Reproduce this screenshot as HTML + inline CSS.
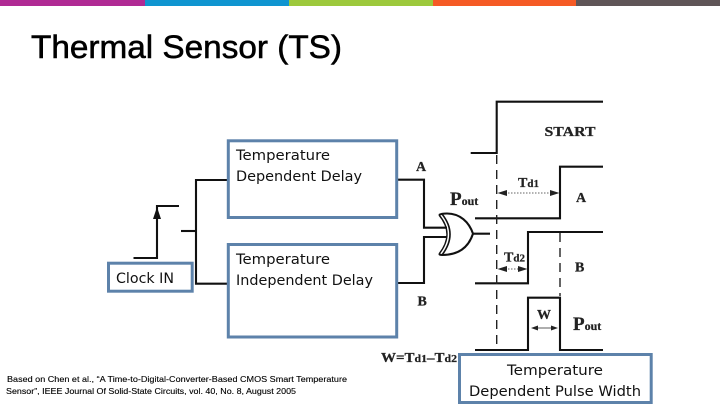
<!DOCTYPE html>
<html><head><meta charset="utf-8"><style>
html,body{margin:0;padding:0;background:#fff;width:720px;height:405px;overflow:hidden}
svg{display:block}
.d{font-family:"DejaVu Sans",sans-serif;font-size:14.5px;fill:#111}
.s{font-family:"Liberation Serif",serif;font-weight:bold;fill:#222;stroke:#222;stroke-width:.25}
.f{font-family:"Liberation Sans",sans-serif;font-size:8.6px;fill:#000;stroke:#000;stroke-width:.12}
</style></head><body>
<svg width="720" height="405" viewBox="0 0 720 405" xmlns="http://www.w3.org/2000/svg">
<rect x="0" y="0" width="145" height="6" fill="#b02a94"/>
<rect x="145" y="0" width="144" height="6" fill="#0f95d0"/>
<rect x="289" y="0" width="144" height="6" fill="#9dc93c"/>
<rect x="433" y="0" width="143" height="6" fill="#f55a25"/>
<rect x="576" y="0" width="144" height="6" fill="#5f5557"/>
<text x="31" y="58" font-family="Liberation Sans,sans-serif" font-size="32" fill="#000" stroke="#000" stroke-width=".55" textLength="311" lengthAdjust="spacingAndGlyphs">Thermal Sensor (TS)</text>

<g fill="none" stroke="#111" stroke-width="2.1">
<path d="M133.5 258H157V206H179"/>
<path d="M181 231H196"/>
<path d="M227 180H196V283.7H227"/>
<path d="M398 179.7H424V227.7H447"/>
<path d="M398 283H424V237H447"/>
<path d="M473 233.7H490"/>
<path d="M470.7 153H496.7V101.7H603"/>
<path d="M475 218.3H560V166.7H603"/>
<path d="M475 283.3H528V232H603"/>
<path d="M475 350H528V297.7H560V350H603"/>
<path d="M439 215Q455 234 439 254" stroke-width="1.4"/>
<path d="M442 214Q458 234 442 255" stroke-width="1.6"/>
<path d="M439 215Q441 213.5 447 213.5C460 213.5 469 222 473 233.7C469 246 460 255 442 255Q440 255 439 254"/>
</g>
<path d="M157 207L153 219H161Z" fill="#111"/>
<g fill="none" stroke="#222" stroke-width="1.4" stroke-dasharray="9 6">
<path d="M496.7 155V350"/>
<path d="M560 233V296"/>
</g>
<g fill="none" stroke="#333" stroke-width="0.8" stroke-dasharray="1.5 1.5">
<path d="M505 193H552"/>
<path d="M505 269H520"/>
</g>
<path d="M537 328H553" stroke="#333" stroke-width="0.8"/>
<g fill="#222">
<path d="M497.5 193L507 190V196Z"/>
<path d="M559.5 193L550 190V196Z"/>
<path d="M497.5 269L507 266V272Z"/>
<path d="M527.5 269L518 266V272Z"/>
<path d="M531 328L538 325.5V330.5Z"/>
<path d="M558 328L551 325.5V330.5Z"/>
</g>

<g fill="#fff" stroke="#5d82aa" stroke-width="3">
<rect x="228.3" y="140.8" width="168.4" height="76.7"/>
<rect x="228.3" y="244.5" width="168.4" height="92.5"/>
<rect x="108.5" y="263.2" width="83.7" height="28"/>
<rect x="459.5" y="354.5" width="191.7" height="48"/>
</g>

<text class="d" x="236" y="160" textLength="94" lengthAdjust="spacingAndGlyphs">Temperature</text>
<text class="d" x="236" y="181" textLength="126" lengthAdjust="spacingAndGlyphs">Dependent Delay</text>
<text class="d" x="236" y="264" textLength="94" lengthAdjust="spacingAndGlyphs">Temperature</text>
<text class="d" x="236" y="285" textLength="137" lengthAdjust="spacingAndGlyphs">Independent Delay</text>
<text class="d" x="116" y="283" textLength="58" lengthAdjust="spacingAndGlyphs">Clock IN</text>
<text class="d" x="507" y="375" textLength="96" lengthAdjust="spacingAndGlyphs">Temperature</text>
<text class="d" x="469" y="396" textLength="172" lengthAdjust="spacingAndGlyphs">Dependent Pulse Width</text>

<text class="f" x="7" y="382" textLength="340" lengthAdjust="spacingAndGlyphs">Based on Chen et al., “A Time-to-Digital-Converter-Based CMOS Smart Temperature</text>
<text class="f" x="6" y="394" textLength="290" lengthAdjust="spacingAndGlyphs">Sensor”, IEEE Journal Of Solid-State Circuits, vol. 40, No. 8, August 2005</text>

<text class="s" x="544.5" y="136" font-size="14" textLength="51" lengthAdjust="spacingAndGlyphs">START</text>
<text class="s" x="416" y="171" font-size="14">A</text>
<text class="s" x="417.5" y="305.5" font-size="14">B</text>
<text class="s" x="576" y="202" font-size="14">A</text>
<text class="s" x="575" y="271.5" font-size="14">B</text>
<text class="s" x="450" y="205" font-size="19">P<tspan font-size="12">out</tspan></text>
<text class="s" x="573" y="330" font-size="19">P<tspan font-size="12">out</tspan></text>
<text class="s" x="518" y="187" font-size="14">T<tspan font-size="11">d1</tspan></text>
<text class="s" x="504" y="261.5" font-size="14">T<tspan font-size="11">d2</tspan></text>
<text class="s" x="537" y="319" font-size="14">W</text>
<text class="s" x="381" y="362" font-size="14" textLength="76" lengthAdjust="spacingAndGlyphs">W=T<tspan font-size="11">d1</tspan>–T<tspan font-size="11">d2</tspan></text>
</svg>
</body></html>
